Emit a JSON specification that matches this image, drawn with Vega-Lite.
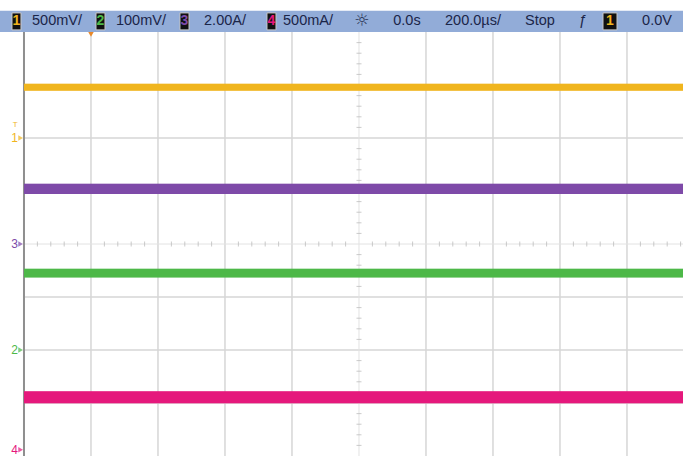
{
  "$schema": "https://vega.github.io/schema/vega-lite/v6.json",
  "width": 683,
  "height": 456,
  "autosize": "none",
  "padding": 0,
  "background": "white",
  "config": {"view": {"stroke": null}, "axis": {"disable": true}},
  "datasets": {
    "header": [{"x": -0.358, "x2": 9.836, "y": 4.0, "y2": 4.4}],
    "boxes": [
      {"ch": "1", "t": "1", "x": -0.179, "x2": -0.045, "cx": -0.112},
      {"ch": "2", "t": "2", "x": 1.075, "x2": 1.209, "cx": 1.142},
      {"ch": "3", "t": "3", "x": 2.328, "x2": 2.463, "cx": 2.395},
      {"ch": "4", "t": "4", "x": 3.627, "x2": 3.761, "cx": 3.694},
      {"ch": "1", "t": "1", "x": 8.642, "x2": 8.851, "cx": 8.746}
    ],
    "hlabels": [
      {"t": "500mV/", "x": 0.493},
      {"t": "100mV/", "x": 1.746},
      {"t": "2.00A/", "x": 3.0},
      {"t": "500mA/", "x": 4.239},
      {"t": "0.0s", "x": 5.716},
      {"t": "200.0µs/", "x": 6.701},
      {"t": "Stop", "x": 7.701},
      {"t": "ƒ", "x": 8.343},
      {"t": "0.0V", "x": 9.448}
    ],
    "vgrid": [{"x": 1}, {"x": 2}, {"x": 3}, {"x": 4}, {"x": 6}, {"x": 7}, {"x": 8}, {"x": 9}],
    "hgrid": [{"y": -3}, {"y": -2}, {"y": -1}, {"y": 1}, {"y": 2}, {"y": 3}],
    "hticks": [
      {"x": 0.2}, {"x": 0.4}, {"x": 0.6}, {"x": 0.8}, {"x": 1.2}, {"x": 1.4}, {"x": 1.6}, {"x": 1.8},
      {"x": 2.2}, {"x": 2.4}, {"x": 2.6}, {"x": 2.8}, {"x": 3.2}, {"x": 3.4}, {"x": 3.6}, {"x": 3.8},
      {"x": 4.2}, {"x": 4.4}, {"x": 4.6}, {"x": 4.8}, {"x": 5.2}, {"x": 5.4}, {"x": 5.6}, {"x": 5.8},
      {"x": 6.2}, {"x": 6.4}, {"x": 6.6}, {"x": 6.8}, {"x": 7.2}, {"x": 7.4}, {"x": 7.6}, {"x": 7.8},
      {"x": 8.2}, {"x": 8.4}, {"x": 8.6}, {"x": 8.8}, {"x": 9.2}, {"x": 9.4}, {"x": 9.6}, {"x": 9.8}
    ],
    "vticks": [
      {"y": -3.8}, {"y": -3.6}, {"y": -3.4}, {"y": -3.2}, {"y": -2.8}, {"y": -2.6}, {"y": -2.4}, {"y": -2.2},
      {"y": -1.8}, {"y": -1.6}, {"y": -1.4}, {"y": -1.2}, {"y": -0.8}, {"y": -0.6}, {"y": -0.4}, {"y": -0.2},
      {"y": 0.2}, {"y": 0.4}, {"y": 0.6}, {"y": 0.8}, {"y": 1.2}, {"y": 1.4}, {"y": 1.6}, {"y": 1.8},
      {"y": 2.2}, {"y": 2.4}, {"y": 2.6}, {"y": 2.8}, {"y": 3.2}, {"y": 3.4}, {"y": 3.6}, {"y": 3.8}
    ],
    "traces": [
      {"ch": "1", "x": 0.0, "y": 2.96}, {"ch": "1", "x": 9.836, "y": 2.96},
      {"ch": "3", "x": 0.0, "y": 1.04}, {"ch": "3", "x": 9.836, "y": 1.04},
      {"ch": "2", "x": 0.0, "y": -0.55}, {"ch": "2", "x": 9.836, "y": -0.55},
      {"ch": "4", "x": 0.0, "y": -2.89}, {"ch": "4", "x": 9.836, "y": -2.89}
    ],
    "markers": [
      {"ch": "1", "t": "1", "y": 2.0},
      {"ch": "3", "t": "3", "y": 0.0},
      {"ch": "2", "t": "2", "y": -2.0},
      {"ch": "4", "t": "4", "y": -3.88}
    ],
    "trig": [{"x": 1.0, "y": 3.98}]
  },
  "layer": [
    {
      "data": {"name": "vgrid"},
      "mark": {"type": "rule", "color": "#d6d6d6", "strokeWidth": 1.5},
      "encoding": {
        "x": {"field": "x", "type": "quantitative", "scale": {"domain": [-0.358, 9.836], "nice": false, "zero": false}},
        "y": {"datum": -4, "type": "quantitative", "scale": {"domain": [-4, 4.604], "nice": false, "zero": false}},
        "y2": {"datum": 4}
      }
    },
    {
      "data": {"name": "hgrid"},
      "mark": {"type": "rule", "color": "#d6d6d6", "strokeWidth": 1.5},
      "encoding": {
        "y": {"field": "y", "type": "quantitative"},
        "x": {"datum": 0, "type": "quantitative"},
        "x2": {"datum": 9.836}
      }
    },
    {
      "data": {"values": [{"a": 1}]},
      "mark": {"type": "rule", "color": "#e2e2e2", "strokeWidth": 1},
      "encoding": {"y": {"datum": 0, "type": "quantitative"}, "x": {"datum": 0, "type": "quantitative"}, "x2": {"datum": 9.836}}
    },
    {
      "data": {"values": [{"a": 1}]},
      "mark": {"type": "rule", "color": "#e2e2e2", "strokeWidth": 1},
      "encoding": {"x": {"datum": 5, "type": "quantitative"}, "y": {"datum": -4, "type": "quantitative"}, "y2": {"datum": 4}}
    },
    {
      "data": {"name": "hticks"},
      "mark": {"type": "tick", "orient": "vertical", "color": "#b5b5b5", "size": 5, "thickness": 1},
      "encoding": {"x": {"field": "x", "type": "quantitative"}, "y": {"datum": 0, "type": "quantitative"}}
    },
    {
      "data": {"name": "vticks"},
      "mark": {"type": "tick", "orient": "horizontal", "color": "#b5b5b5", "size": 5, "thickness": 1},
      "encoding": {"y": {"field": "y", "type": "quantitative"}, "x": {"datum": 5, "type": "quantitative"}}
    },
    {
      "data": {"values": [{"a": 1}]},
      "mark": {"type": "rule", "color": "#8f8f8f", "strokeWidth": 2},
      "encoding": {"x": {"datum": 0, "type": "quantitative"}, "y": {"datum": -4, "type": "quantitative"}, "y2": {"datum": 4}}
    },
    {
      "data": {"name": "traces"},
      "mark": {"type": "line", "opacity": 0.35},
      "encoding": {
        "x": {"field": "x", "type": "quantitative"},
        "y": {"field": "y", "type": "quantitative"},
        "detail": {"field": "ch"},
        "color": {"field": "ch", "type": "nominal", "scale": {"domain": ["1", "2", "3", "4"], "range": ["#f0b51e", "#4db848", "#7e4aa8", "#e5187c"]}, "legend": null},
        "strokeWidth": {"field": "ch", "type": "nominal", "scale": {"domain": ["1", "2", "3", "4"], "range": [7, 12, 10, 10]}, "legend": null}
      }
    },
    {
      "data": {"name": "traces"},
      "mark": {"type": "line"},
      "encoding": {
        "x": {"field": "x", "type": "quantitative"},
        "y": {"field": "y", "type": "quantitative"},
        "detail": {"field": "ch"},
        "color": {"field": "ch", "type": "nominal", "legend": null},
        "strokeWidth": {"field": "ch", "type": "nominal", "scale": {"domain": ["1", "2", "3", "4"], "range": [4, 9, 6, 6]}, "legend": null}
      }
    },
    {
      "data": {"name": "markers"},
      "mark": {"type": "text", "align": "right", "baseline": "middle", "fontSize": 12, "font": "Liberation Sans"},
      "encoding": {
        "x": {"datum": -0.09, "type": "quantitative"},
        "y": {"field": "y", "type": "quantitative"},
        "text": {"field": "t"},
        "color": {"field": "ch", "type": "nominal", "legend": null}
      }
    },
    {
      "data": {"name": "markers"},
      "mark": {"type": "point", "shape": "triangle-right", "filled": true, "size": 30},
      "encoding": {
        "x": {"datum": -0.05, "type": "quantitative"},
        "y": {"field": "y", "type": "quantitative"},
        "color": {"field": "ch", "type": "nominal", "legend": null}
      }
    },
    {
      "data": {"values": [{"t": "T", "y": 2.25}]},
      "mark": {"type": "text", "align": "center", "baseline": "middle", "fontSize": 8, "font": "Liberation Sans", "color": "#f0b51e"},
      "encoding": {"x": {"datum": -0.13, "type": "quantitative"}, "y": {"field": "y", "type": "quantitative"}, "text": {"field": "t"}}
    },
    {
      "data": {"name": "trig"},
      "mark": {"type": "point", "shape": "triangle-down", "filled": true, "size": 70, "color": "#e8892a", "opacity": 1},
      "encoding": {"x": {"field": "x", "type": "quantitative"}, "y": {"field": "y", "type": "quantitative"}}
    },
    {
      "data": {"name": "header"},
      "mark": {"type": "rect", "color": "#92acd8"},
      "encoding": {
        "x": {"field": "x", "type": "quantitative"}, "x2": {"field": "x2"},
        "y": {"field": "y", "type": "quantitative"}, "y2": {"field": "y2"}
      }
    },
    {
      "data": {"name": "boxes"},
      "mark": {"type": "rect", "color": "#111111", "stroke": "#c8c8c8", "strokeWidth": 1},
      "encoding": {
        "x": {"field": "x", "type": "quantitative"}, "x2": {"field": "x2"},
        "y": {"datum": 4.04, "type": "quantitative"}, "y2": {"datum": 4.36}
      }
    },
    {
      "data": {"name": "boxes"},
      "mark": {"type": "text", "align": "center", "baseline": "middle", "fontSize": 14, "fontWeight": "bold", "font": "Liberation Sans"},
      "encoding": {
        "x": {"field": "cx", "type": "quantitative"},
        "y": {"datum": 4.2, "type": "quantitative"},
        "text": {"field": "t"},
        "color": {"field": "ch", "type": "nominal", "legend": null}
      }
    },
    {
      "data": {"name": "hlabels"},
      "mark": {"type": "text", "align": "center", "baseline": "middle", "fontSize": 14.5, "color": "#1b2548", "font": "Liberation Sans"},
      "encoding": {
        "x": {"field": "x", "type": "quantitative"},
        "y": {"datum": 4.2, "type": "quantitative"},
        "text": {"field": "t"}
      }
    },
    {
      "data": {"values": [{"t": "☼", "x": 5.045}]},
      "mark": {"type": "text", "align": "center", "baseline": "middle", "fontSize": 17, "color": "#2a3555", "font": "DejaVu Sans"},
      "encoding": {
        "x": {"field": "x", "type": "quantitative"},
        "y": {"datum": 4.2, "type": "quantitative"},
        "text": {"field": "t"}
      }
    }
  ]
}
